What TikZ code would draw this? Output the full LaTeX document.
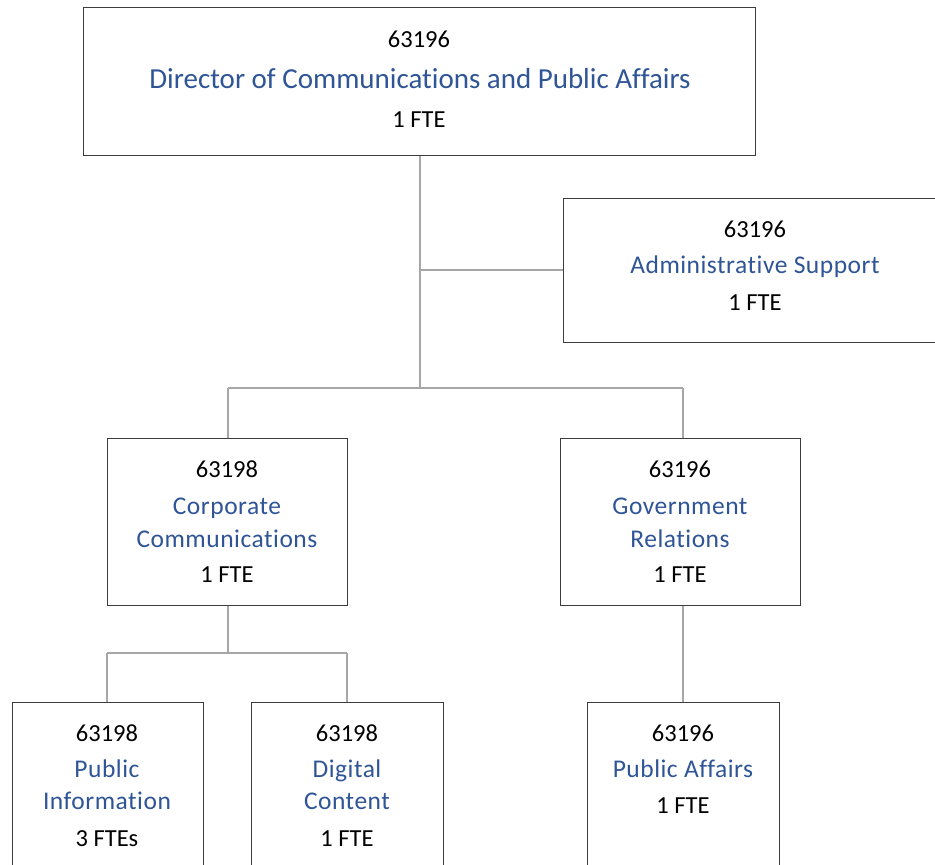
\documentclass[tikz,border=0pt]{standalone}
\usepackage{fontspec}
\setmainfont{Carlito}[Ligatures=NoCommon]
\newfontfamily\namefont[LetterSpace=2.0,Ligatures=NoCommon]{Carlito}
\newfontfamily\bignamefont[Ligatures=NoCommon]{Carlito}
\definecolor{boxline}{RGB}{60,60,60}
\definecolor{linkline}{RGB}{166,166,166}
\definecolor{titleblue}{RGB}{47,85,151}
\tikzset{
  unitbox/.style={draw=boxline, line width=1.3pt, fill=white, anchor=north west, inner sep=0pt},
  link/.style={draw=linkline, line width=2pt},
  codetxt/.style={anchor=base, inner sep=0pt, text=black, font=\fontsize{24.5}{28}\selectfont},
  nametxt/.style={anchor=base, inner sep=0pt, text=titleblue, font=\namefont\fontsize{25.5}{30}\selectfont},
  bignametxt/.style={anchor=base, inner sep=0pt, text=titleblue, font=\bignamefont\fontsize{29}{34}\selectfont},
}
\begin{document}
\begin{tikzpicture}[x=1pt,y=-1pt]
\clip (0,0) rectangle (935,865);
\fill[white] (0,0) rectangle (935,865);

% junction points of the connector tree
\coordinate (hub) at (420,270);
\coordinate (bus) at (420,388);
\coordinate (busL) at (228,388);
\coordinate (busR) at (683,388);
\coordinate (ccSplit) at (228,653);
\coordinate (ccL) at (107,653);
\coordinate (ccR) at (347,653);

% boxes
\node[unitbox, minimum width=672pt, minimum height=148pt] (dir) at (83,7) {};
\node[unitbox, minimum width=400pt, minimum height=144pt] (adm) at (563,198) {};
\node[unitbox, minimum width=240pt, minimum height=167pt] (corp) at (107,438) {};
\node[unitbox, minimum width=240pt, minimum height=167pt] (gov) at (560,438) {};
\node[unitbox, minimum width=191pt, minimum height=200pt] (pinf) at (12,702) {};
\node[unitbox, minimum width=192pt, minimum height=200pt] (dig) at (251,702) {};
\node[unitbox, minimum width=192pt, minimum height=200pt] (paff) at (587,702) {};

% connectors
\draw[link] (dir.south -| hub) -- (hub) -- (bus);
\draw[link] (hub) -- (adm.west |- hub);
\draw[link] (busL) -- (busR);
\draw[link] (busL) -- (corp.north -| busL);
\draw[link] (busR) -- (gov.north -| busR);
\draw[link] (corp.south -| ccSplit) -- (ccSplit);
\draw[link] (ccL) -- (ccR);
\draw[link] (ccL) -- (pinf.north -| ccL);
\draw[link] (ccR) -- (dig.north -| ccR);
\draw[link] (gov.south -| busR) -- (paff.north -| busR);

% texts
\node[codetxt] (dirCode) at (419,47) {63196};
\node[bignametxt] (dirName) at (420,88) {Director of Communications and Public Affairs};
\node[codetxt] (dirFte) at (419,127) {1 FTE};

\node[codetxt] (admCode) at (755,237) {63196};
\node[nametxt] (admName) at (755,273) {Administrative Support};
\node[codetxt] (admFte) at (755,310) {1 FTE};

\node[codetxt] (corpCode) at (227,477) {63198};
\node[nametxt] (corpName1) at (227,514) {Corporate};
\node[nametxt] (corpName2) at (227,547) {Communications};
\node[codetxt] (corpFte) at (227,582) {1 FTE};

\node[codetxt] (govCode) at (680,477) {63196};
\node[nametxt] (govName1) at (680,514) {Government};
\node[nametxt] (govName2) at (680,547) {Relations};
\node[codetxt] (govFte) at (680,582) {1 FTE};

\node[codetxt] (pinfCode) at (107,741) {63198};
\node[nametxt] (pinfName1) at (107,777) {Public};
\node[nametxt] (pinfName2) at (107,809) {Information};
\node[codetxt] (pinfFte) at (107,846) {3 FTEs};

\node[codetxt] (digCode) at (347,741) {63198};
\node[nametxt] (digName1) at (347,777) {Digital};
\node[nametxt] (digName2) at (347,809) {Content};
\node[codetxt] (digFte) at (347,846) {1 FTE};

\node[codetxt] (paffCode) at (683,741) {63196};
\node[nametxt] (paffName) at (683,777) {Public Affairs};
\node[codetxt] (paffFte) at (683,813) {1 FTE};
\end{tikzpicture}
\end{document}
